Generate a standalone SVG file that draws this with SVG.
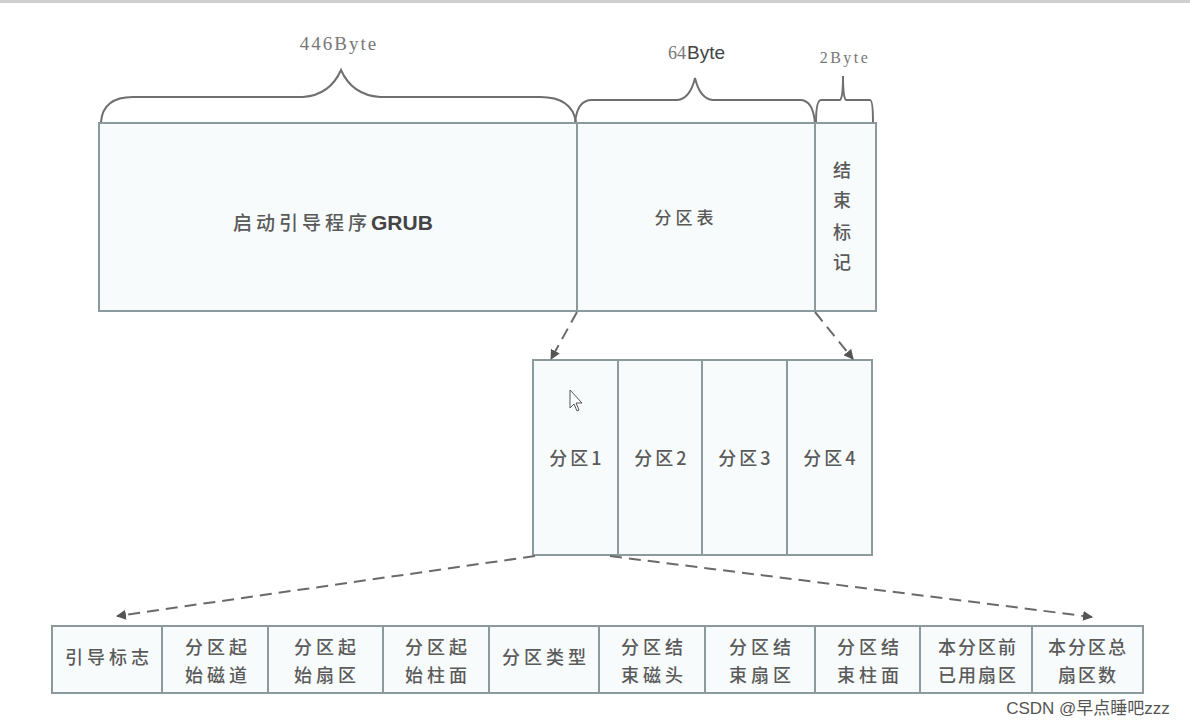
<svg xmlns="http://www.w3.org/2000/svg" width="1190" height="727" viewBox="0 0 1190 727">
<style>
.box{fill:#f8fbfc;stroke:#8d9a9d;stroke-width:2}
.div{stroke:#8d9a9d;stroke-width:2}
.brace{fill:none;stroke:#6f6f6f;stroke-width:2}
.lbl{font-family:"Liberation Serif","Noto Sans CJK SC",serif;fill:#777;text-anchor:middle}
.t{font-family:"Noto Sans CJK SC",sans-serif;fill:#5a5a5a;font-size:18px;font-weight:500;text-anchor:middle}
.s{font-family:"Noto Sans CJK SC",sans-serif;fill:#5a5a5a;font-size:18px;font-weight:500;letter-spacing:4px;text-anchor:middle}
.dash{fill:none;stroke:#6a6a6a;stroke-width:2;stroke-dasharray:12,7}
</style>
<defs>
<marker id="ah" viewBox="0 0 10 10" refX="9" refY="5" markerWidth="5" markerHeight="5" orient="auto" markerUnits="strokeWidth">
<path d="M0,0 L10,5 L0,10 z" fill="#555"/>
</marker>
</defs>
<rect x="0" y="0" width="1190" height="727" fill="#ffffff"/>
<rect x="0" y="0" width="1190" height="3" fill="#cfcfcf"/>

<g id="braces">
<path class="brace" d="M101,122 Q103,97 133,97 L303,97 Q330,95 341,70 Q352,95 380,97 L540,97 Q572,97 576,122"/>
<path class="brace" d="M575,123 Q577,100 592,100 L677,100 Q690,99 695,78 Q700,99 713,100 L800,100 Q813,100 815,123"/>
<path class="brace" d="M816,123 Q816,100 821,100 L840,100 Q843,98 843,76 Q843,98 846,100 L870,100 Q873,100 873,123"/>
<text class="lbl" x="339" y="50" style="font-size:19px;letter-spacing:2px">446Byte</text>
<text x="668" y="59" style="font-family:'Liberation Serif',serif;fill:#777;font-size:18px">64</text>
<text x="687" y="59" style="font-family:'Liberation Sans',sans-serif;fill:#444;font-size:19px">Byte</text>
<text class="lbl" x="845" y="63" style="font-size:16px;letter-spacing:2.5px">2Byte</text>
</g>

<g id="mbr">
<rect class="box" x="99" y="123" width="777" height="188"/>
<line class="div" x1="577" y1="123" x2="577" y2="311"/>
<line class="div" x1="815" y1="123" x2="815" y2="311"/>
</g>
<g id="grub"><text x="233" y="230" style="font-family:'Noto Sans CJK SC',sans-serif;fill:#5a5a5a;font-size:19px;font-weight:500;letter-spacing:4px">启动引导程序<tspan style="font-family:'Liberation Sans',sans-serif;font-weight:bold;font-size:21px;letter-spacing:0;fill:#444">GRUB</tspan></text></g>
<g id="ptable"><text class="t" x="686" y="224" style="font-size:17px;letter-spacing:4px">分区表</text></g>
<g id="endmark">
<text class="t" x="842" y="177">结</text>
<text class="t" x="842" y="207">束</text>
<text class="t" x="842" y="239">标</text>
<text class="t" x="842" y="269">记</text>
</g>

<g id="partitions">
<rect class="box" x="533" y="360" width="339" height="195"/>
<line class="div" x1="618" y1="360" x2="618" y2="555"/>
<line class="div" x1="702" y1="360" x2="702" y2="555"/>
<line class="div" x1="787" y1="360" x2="787" y2="555"/>
</g>
<g id="p1"><text class="t" x="577" y="465" style="letter-spacing:3px">分区1</text></g>
<g id="p2"><text class="t" x="662" y="465" style="letter-spacing:3px">分区2</text></g>
<g id="p3"><text class="t" x="746" y="465" style="letter-spacing:3px">分区3</text></g>
<g id="p4"><text class="t" x="831" y="465" style="letter-spacing:3px">分区4</text></g>

<path d="M570,390 L570,408 L574,404 L577,411 L579,410 L576,403 L582,403 Z" fill="#fff" stroke="#555" stroke-width="1"/>

<g id="fields">
<rect class="box" x="52" y="626" width="1091" height="67"/>
<line class="div" x1="162" y1="626" x2="162" y2="693"/>
<line class="div" x1="268" y1="626" x2="268" y2="693"/>
<line class="div" x1="383" y1="626" x2="383" y2="693"/>
<line class="div" x1="489" y1="626" x2="489" y2="693"/>
<line class="div" x1="599" y1="626" x2="599" y2="693"/>
<line class="div" x1="705" y1="626" x2="705" y2="693"/>
<line class="div" x1="815" y1="626" x2="815" y2="693"/>
<line class="div" x1="920" y1="626" x2="920" y2="693"/>
<line class="div" x1="1032" y1="626" x2="1032" y2="693"/>
</g>
<g id="f1"><text class="s" x="109" y="664">引导标志</text></g>
<g id="f2"><text class="s" x="218" y="654">分区起</text><text class="s" x="218" y="682">始磁道</text></g>
<g id="f3"><text class="s" x="327" y="654">分区起</text><text class="s" x="327" y="682">始扇区</text></g>
<g id="f4"><text class="s" x="438" y="654">分区起</text><text class="s" x="438" y="682">始柱面</text></g>
<g id="f5"><text class="s" x="546" y="664">分区类型</text></g>
<g id="f6"><text class="s" x="654" y="654">分区结</text><text class="s" x="654" y="682">束磁头</text></g>
<g id="f7"><text class="s" x="762" y="654">分区结</text><text class="s" x="762" y="682">束扇区</text></g>
<g id="f8"><text class="s" x="870" y="654">分区结</text><text class="s" x="870" y="682">束柱面</text></g>
<g id="f9"><text class="s" x="978" y="654" style="letter-spacing:2px">本分区前</text><text class="s" x="978" y="682" style="letter-spacing:2px">已用扇区</text></g>
<g id="f10"><text class="s" x="1088" y="654" style="letter-spacing:2px">本分区总</text><text class="s" x="1088" y="682" style="letter-spacing:2px">扇区数</text></g>

<g id="connectors">
<path class="dash" d="M577,312 L551,359" marker-end="url(#ah)"/>
<path class="dash" d="M815,312 L853,359" marker-end="url(#ah)"/>
<path class="dash" d="M535,556 L117,616" marker-end="url(#ah)"/>
<path class="dash" d="M610,556 L1092,617" marker-end="url(#ah)"/>
</g>

<text x="1088" y="714" style="font-family:'Liberation Sans','Noto Sans CJK SC',sans-serif;fill:#555;font-size:17px;text-anchor:middle">CSDN @早点睡吧zzz</text>
</svg>
